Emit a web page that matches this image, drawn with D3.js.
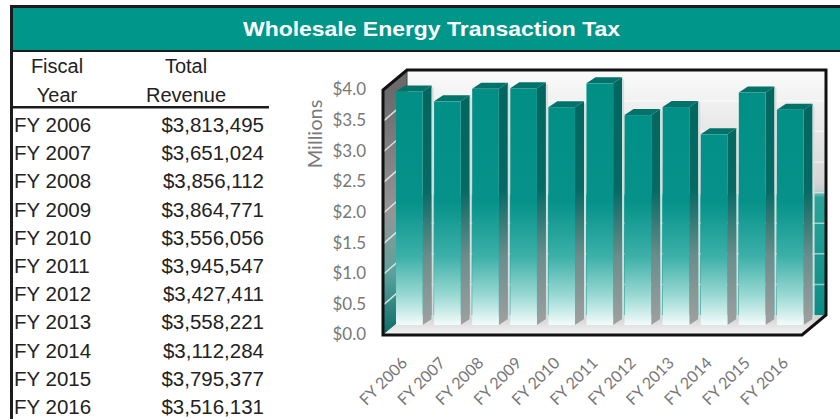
<!DOCTYPE html>
<html><head><meta charset="utf-8">
<script src="https://cdn.jsdelivr.net/npm/d3@7"></script>
<style>html,body{margin:0;padding:0;background:#fff;}svg{display:block;}</style>
</head><body>
<script>
const title = "Wholesale Energy Transaction Tax";
const headerCol1 = ["Fiscal", "Year"];
const headerCol2 = ["Total", "Revenue"];
const years = ["FY 2006","FY 2007","FY 2008","FY 2009","FY 2010","FY 2011","FY 2012","FY 2013","FY 2014","FY 2015","FY 2016"];
const revenue = [3813495,3651024,3856112,3864771,3556056,3945547,3427411,3558221,3112284,3795377,3516131];
const yTicks = [0,0.5,1,1.5,2,2.5,3,3.5,4];
const yAxisTitle = "Millions";

const W = 840, H = 419;
const svg = d3.select("body").append("svg").attr("width", W).attr("height", H);
const defs = svg.append("defs");

function grad(id, stops, x1, y1, x2, y2) {
  const g = defs.append("linearGradient").attr("id", id)
    .attr("gradientUnits", "userSpaceOnUse")
    .attr("x1", x1).attr("y1", y1).attr("x2", x2).attr("y2", y2);
  stops.forEach(s => g.append("stop").attr("offset", s[0]).attr("stop-color", s[1]));
}

// ---------- title bar & table ----------
svg.append("rect").attr("x", 10).attr("y", 5).attr("width", 835).attr("height", 47).attr("fill", "#1c1c1c");
svg.append("rect").attr("x", 13).attr("y", 8).attr("width", 830).attr("height", 42).attr("fill", "#00968a");
svg.append("rect").attr("x", 10).attr("y", 5).attr("width", 3).attr("height", H).attr("fill", "#1c1c1c");
svg.append("text").attr("x", 243).attr("y", 36)
  .attr("font-family", "Liberation Sans, Arial, sans-serif").attr("font-weight", "bold")
  .attr("font-size", 21).attr("fill", "#fff")
  .attr("textLength", 377).attr("lengthAdjust", "spacingAndGlyphs").text(title);

const tf = "Liberation Sans, Arial, sans-serif";
headerCol1.forEach((t, i) => svg.append("text").attr("x", 57).attr("y", 73 + i * 29)
  .attr("text-anchor", "middle").attr("font-family", tf).attr("font-size", 20).attr("fill", "#222").text(t));
headerCol2.forEach((t, i) => svg.append("text").attr("x", 186).attr("y", 73 + i * 29)
  .attr("text-anchor", "middle").attr("font-family", tf).attr("font-size", 20).attr("fill", "#222").text(t));
svg.append("rect").attr("x", 13).attr("y", 106).attr("width", 256).attr("height", 2.5).attr("fill", "#1c1c1c");

const rowY = d3.scaleLinear().domain([0, years.length - 1]).range([132, 414]);
const fmt = d3.format("$,");
years.forEach((yr, i) => {
  svg.append("text").attr("x", 14).attr("y", rowY(i)).attr("font-family", tf).attr("font-size", 20.5)
    .attr("fill", "#222").text(yr);
  svg.append("text").attr("x", 264).attr("y", rowY(i)).attr("text-anchor", "end").attr("font-family", tf)
    .attr("font-size", 20.5).attr("fill", "#222").text(fmt(revenue[i]));
});

// ---------- 3D column chart ----------
const fx0 = 383, fx1 = 802;      // front plane x extent
const DX = 24, DY = -20;         // full depth vector
const y = d3.scaleLinear().domain([0, 4]).range([335, 90]);   // front plane
const x = d3.scaleBand().domain(years).range([396, 815]).paddingInner(0.3).paddingOuter(0.15).align(0);
const bdx = 9, bdy = -6;         // bar depth
const midX = 12, midY = -10;     // bars sit at mid-depth

grad("backWall", [[0, "#fbfbfb"], [0.45, "#d6d6d6"], [0.49, "#c4cfce"], [0.52, "#2aa49b"], [1, "#0b8d85"]], 0, y(4) + DY, 0, y(0) + DY);
grad("leftWall", [[0, "#6a6a6a"], [0.5, "#959595"], [0.75, "#5aa29d"], [1, "#0c6c67"]], 0, y(4), 0, y(0));
grad("floor", [[0, "#cfcfcf"], [1, "#f4f4f4"]], 0, y(0) + DY, 0, y(0));
grad("barFront", [[0, "#008e85"], [0.5, "#06928a"], [0.72, "#3cb0a8"], [0.88, "#9ad9d3"], [1, "#f3fcfb"]], 0, y(4) + midY, 0, y(0) + midY);
grad("barSide", [[0, "#01665e"], [0.45, "#066a64"], [0.72, "#6a8d8b"], [1, "#a0a0a0"]], 0, y(4) + midY, 0, y(0) + midY);

const pts = a => a.map(p => p.join(",")).join(" ");

// back wall
svg.append("polygon").attr("points", pts([[fx0 + DX, y(4) + DY], [fx1 + DX, y(4) + DY], [fx1 + DX, y(0) + DY], [fx0 + DX, y(0) + DY]]))
  .attr("fill", "url(#backWall)");
// left wall
svg.append("polygon").attr("points", pts([[fx0, y(4)], [fx0 + DX, y(4) + DY], [fx0 + DX, y(0) + DY], [fx0, y(0)]]))
  .attr("fill", "url(#leftWall)");
// floor
svg.append("polygon").attr("points", pts([[fx0, y(0)], [fx1, y(0)], [fx1 + DX, y(0) + DY], [fx0 + DX, y(0) + DY]]))
  .attr("fill", "url(#floor)");

// gridlines
yTicks.filter(v => v > 0 && v < 4).forEach(v => {
  svg.append("line").attr("x1", fx0 + DX).attr("x2", fx1 + DX).attr("y1", y(v) + DY).attr("y2", y(v) + DY)
    .attr("stroke", "#ffffff").attr("stroke-opacity", 0.55).attr("stroke-width", 1.5);
  svg.append("line").attr("x1", fx0 + 1).attr("x2", fx0 + DX).attr("y1", y(v)).attr("y2", y(v) + DY)
    .attr("stroke", "#ffffff").attr("stroke-opacity", 0.75).attr("stroke-width", 1.5);
});
svg.append("line").attr("x1", fx0 + DX).attr("x2", fx0 + DX).attr("y1", y(4) + DY).attr("y2", y(0) + DY)
  .attr("stroke", "#444").attr("stroke-width", 1);

// bars
const bars = svg.append("g");
years.forEach((yr, i) => {
  const v = revenue[i] / 1e6;
  const x0 = x(yr), w = x.bandwidth();
  const yt = y(v) + midY, yb = y(0) + midY;
  const g = bars.append("g");
  g.append("polygon").attr("points", pts([[x0 + w, yt], [x0 + w + bdx, yt + bdy], [x0 + w + bdx, yb + bdy], [x0 + w, yb]]))
    .attr("fill", "url(#barSide)");
  g.append("polygon").attr("points", pts([[x0, yt], [x0 + bdx, yt + bdy], [x0 + w + bdx, yt + bdy], [x0 + w, yt]]))
    .attr("fill", "#02726b");
  g.append("rect").attr("x", x0).attr("y", yt).attr("width", w).attr("height", yb - yt).attr("fill", "url(#barFront)");
  g.append("line").attr("x1", x0 + w + bdx + 1).attr("x2", x0 + w + bdx + 1).attr("y1", yt + bdy + 2).attr("y2", yb + bdy)
    .attr("stroke", "#d5dede").attr("stroke-width", 2);
});

// frame outline
svg.append("path")
  .attr("d", `M${fx0},${y(4)} L${fx0},${y(0)} L${fx1},${y(0)} L${fx1 + DX},${y(0) + DY} L${fx1 + DX},${y(4) + DY} L${fx0 + DX},${y(4) + DY} Z`)
  .attr("fill", "none").attr("stroke", "#111").attr("stroke-width", 3).attr("stroke-linejoin", "miter");

// y axis labels
const af = "Lato, 'Open Sans', sans-serif";
yTicks.forEach(v => {
  svg.append("text").attr("x", 366).attr("y", y(v) - 0.5).attr("dy", "0.35em").attr("text-anchor", "end")
    .attr("font-family", af).attr("font-size", 17).attr("fill", "#777").text("$" + v.toFixed(1));
});
svg.append("text").attr("transform", "translate(322,134) rotate(-90)").attr("text-anchor", "middle")
  .attr("font-family", af).attr("font-size", 20).attr("fill", "#7a7a7a").text(yAxisTitle);

// x axis labels
years.forEach(yr => {
  const cx = x(yr) + x.bandwidth() / 2;
  svg.append("text").attr("transform", `translate(${cx - 1},${364}) rotate(-45)`).attr("text-anchor", "end")
    .attr("font-family", af).attr("font-size", 16).attr("fill", "#777").text(yr);
});
</script>
</body></html>
